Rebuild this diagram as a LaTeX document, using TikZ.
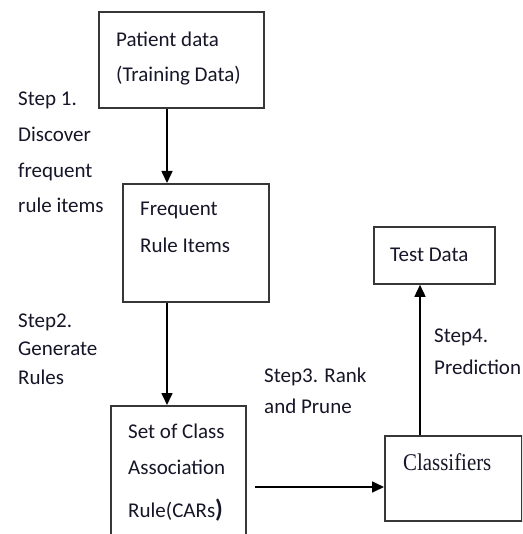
\documentclass[tikz,border=0pt]{standalone}
\usepackage{fontspec}
\setmainfont{Carlito}
\newfontfamily\clsfont[FakeStretch=0.87]{Liberation Serif}
\usetikzlibrary{arrows.meta}
\definecolor{linec}{RGB}{55,55,55}
\definecolor{textc}{RGB}{22,22,40}
\tikzset{
  boxnode/.style={draw=linec, line width=1.8pt, anchor=north west, inner sep=0pt, fill=none},
  lbl/.style={anchor=base west, inner sep=0pt, align=left, text=textc},
  arr/.style={draw=black, line width=1.6pt, -{Triangle[length=12pt,width=11pt]}}
}
\begin{document}
\begin{tikzpicture}[x=1pt,y=-1pt]
\clip (0,0) rectangle (522,534);
\fill[white] (0,0) rectangle (522,534);
% boxes
\node[boxnode, minimum width=165pt, minimum height=96pt] (b1) at (98,11) {};
\node[boxnode, minimum width=146pt, minimum height=118pt] (b2) at (122,183) {};
\node[boxnode, minimum width=135pt, minimum height=150pt] (b3) at (110,405) {};
\node[boxnode, minimum width=121pt, minimum height=57pt] (b4) at (373,226) {};
\node[boxnode, minimum width=137pt, minimum height=85pt] (b5) at (384,435) {};
% box texts (anchored at the baseline of the last line)
\node[lbl, font=\fontsize{21}{35}\selectfont] (t1) at (116,82) {Patient data\\(Training Data)};
\node[lbl, font=\fontsize{21}{36}\selectfont] (t2) at (140,252) {Frequent\\Rule Items};
\node[lbl, font=\fontsize{21}{36}\selectfont] (t3) at (128,517) {Set of Class\\Association\\[7pt]Rule(CARs{\fontsize{25}{30}\selectfont\bfseries )}};
\node[lbl, font=\fontsize{21}{35}\selectfont] (t4) at (390,261) {Test Data};
\node[lbl, font=\clsfont\fontsize{24}{35}\selectfont] (t5) at (403,470) {Classifiers};
% step labels
\node[lbl, font=\fontsize{21}{35.7}\selectfont] (s1) at (18,213) {Step 1.\\Discover\\frequent\\rule items};
\node[lbl, font=\fontsize{21}{28.5}\selectfont] (s2) at (18,384) {Step2.\\Generate\\Rules};
\node[lbl, font=\fontsize{21}{31}\selectfont] (s3) at (264,413) {Step3. Rank\\and Prune};
\node[lbl, font=\fontsize{21}{32}\selectfont] (s4) at (434,374) {Step4.\\Prediction};
% connectors
\coordinate (c1) at (167,0);
\coordinate (c4) at (420,0);
\coordinate (c3) at (255,487);
\draw[arr] (b1.south -| c1) -- (b2.north -| c1);
\draw[arr] (b2.south -| c1) -- (b3.north -| c1);
\draw[arr] (c3) -- (c3 -| b5.west);
\draw[arr] (b5.north -| c4) -- (b4.south -| c4);
\end{tikzpicture}
\end{document}
